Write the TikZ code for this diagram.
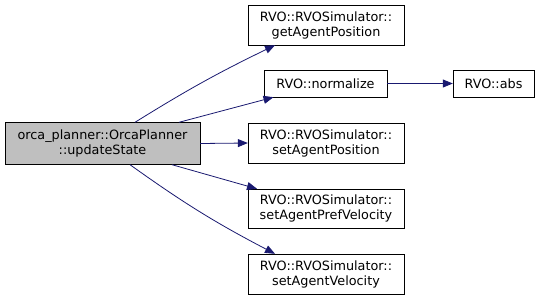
\documentclass[tikz,border=0pt]{standalone}
\usepackage{fontspec}
\setmainfont{DejaVu Sans}
\usetikzlibrary{arrows.meta,positioning}

\definecolor{edgeblue}{HTML}{191970}
\definecolor{rootgrey}{HTML}{BFBFBF}

\tikzset{
    fn/.style={draw=black,fill=white,align=center,inner sep=0pt,
        font=\fontsize{12.8}{15}\selectfont,minimum height=40pt},
    call/.style={-{Triangle[length=10pt,width=8pt]},edgeblue,line width=0.8pt},
}

\begin{document}
\begin{tikzpicture}[x=1pt,y=-1pt]
    \useasboundingbox (0,0) rectangle (540,300);
    % caller
    \node[fn,fill=rootgrey,minimum width=195pt,minimum height=42pt] (update) at (102.5,143.5) {orca\_planner::OrcaPlanner\\::updateState};
    % callees
    \node[fn,minimum width=156pt] (getpos) at (326,25) {RVO::RVOSimulator::\\getAgentPosition};
    \node[fn,minimum width=123pt,minimum height=27pt] (normalize) at (325.5,83.5) {RVO::normalize};
    \node[fn,minimum width=81pt,minimum height=27pt] (abs) at (493.5,83.5) {RVO::abs};
    \node[fn,minimum width=156pt] (setpos) at (326,143) {RVO::RVOSimulator::\\setAgentPosition};
    \node[fn,minimum width=156pt,minimum height=39pt] (setpref) at (326,208.5) {RVO::RVOSimulator::\\setAgentPrefVelocity};
    \node[fn,minimum width=156pt] (setvel) at (326,274) {RVO::RVOSimulator::\\setAgentVelocity};
    % calls
    \draw[call] ([xshift=32.5pt]update.north) to[bend left=3] ([xshift=-51pt]getpos.south);
    \draw[call] ([xshift=76.5pt]update.north) -- ([xshift=-52pt]normalize.south);
    \draw[call] (update.east) -- (setpos.west);
    \draw[call] ([xshift=69.5pt]update.south) -- ([xshift=-69pt]setpref.north);
    \draw[call] ([xshift=27.5pt]update.south) to[bend right=4] ([xshift=-51pt]setvel.north);
    \draw[call] (normalize.east) -- (abs.west);
\end{tikzpicture}
\end{document}
